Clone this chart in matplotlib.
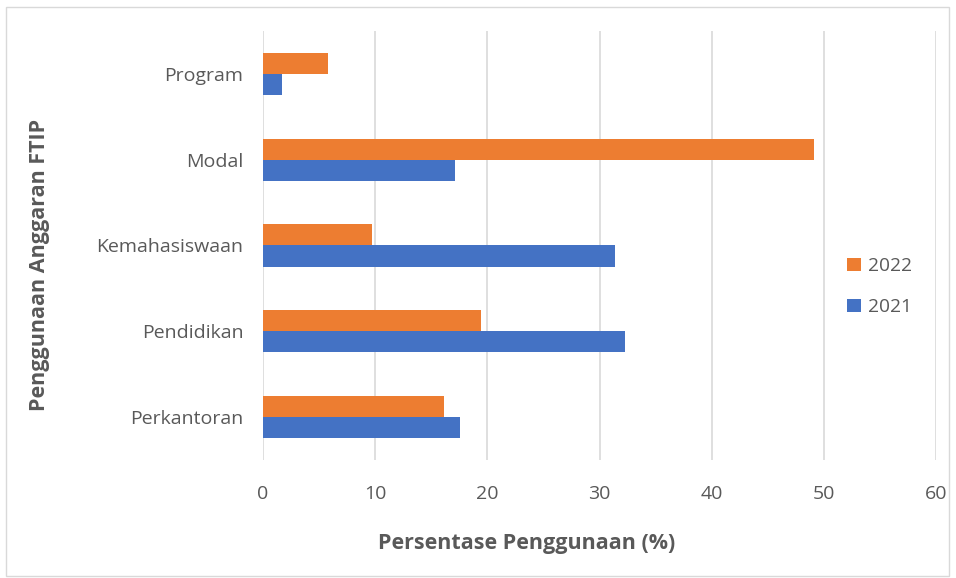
import matplotlib.pyplot as plt
import numpy as np
from matplotlib.patches import Rectangle

# Data
categories = ['Perkantoran', 'Pendidikan', 'Kemahasiswaan', 'Modal', 'Program']
usage_2021 = [17.6, 32.3, 31.4, 17.1, 1.7]
usage_2022 = [16.1, 19.4, 9.7, 49.1, 5.8]

blue = '#4472C4'
orange = '#ED7D31'
grey_text = '#595959'

plt.rcParams['font.family'] = ['Open Sans', 'DejaVu Sans']

fig = plt.figure(figsize=(9.56, 5.78), dpi=100)
W, H = 956, 578
ax = fig.add_axes([263 / W, 1 - 460 / H, (936 - 263) / W, (460 - 31) / H])

y = np.arange(len(categories))
h = 0.245
ax.barh(y - h / 2, usage_2021, height=h, color=blue, label='2021', zorder=3)
ax.barh(y + h / 2, usage_2022, height=h, color=orange, label='2022', zorder=3)

ax.set_xlim(0, 60)
ax.set_ylim(-0.5, len(categories) - 0.5)
ax.set_xticks(np.arange(0, 61, 10))
ax.set_yticks(y)
ax.set_yticklabels(categories)
ax.grid(axis='x', color='#d9d9d9', linewidth=1.2, zorder=0)
for s in ax.spines.values():
    s.set_visible(False)
ax.tick_params(axis='both', length=0, labelsize=14, colors=grey_text)
ax.tick_params(axis='x', pad=18)
ax.tick_params(axis='y', pad=14)

fig.text(527 / W, 1 - 543 / H, 'Persentase Penggunaan (%)', fontsize=15.5,
         fontweight='bold', color=grey_text, ha='center', va='center')
fig.text(40 / W, 1 - 265 / H, 'Penggunaan Anggaran FTIP', rotation=90,
         fontsize=15.5, fontweight='bold', color=grey_text, ha='center', va='center')

handles, labels = ax.get_legend_handles_labels()
leg = fig.legend(handles[::-1], labels[::-1], loc='center left',
                 bbox_to_anchor=(830 / W, 1 - 287 / H), frameon=False,
                 fontsize=13.8, handlelength=0.7, handleheight=0.7,
                 handletextpad=0.4, labelspacing=1.2)
for t in leg.get_texts():
    t.set_color(grey_text)

fig.patches.append(Rectangle((6 / W, 1 - 576 / H), (949 - 6) / W, (576 - 7) / H,
                             transform=fig.transFigure, fill=False,
                             edgecolor='#d9d9d9', linewidth=1))

fig.savefig('out.png', dpi=100)
